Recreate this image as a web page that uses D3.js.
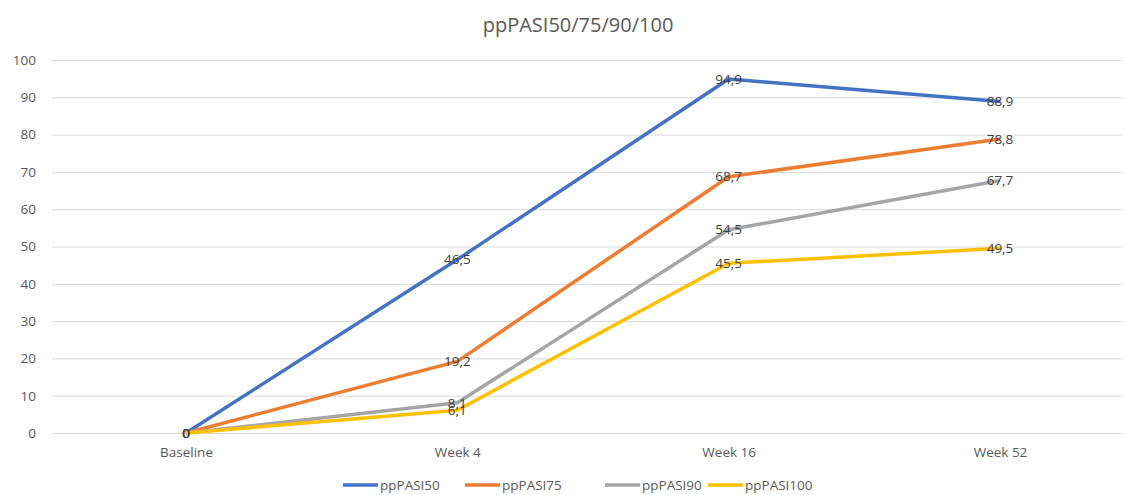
<!DOCTYPE html>
<html><head><meta charset="utf-8">
<script src="https://cdn.jsdelivr.net/npm/d3@7"></script>
<style>body{margin:0;background:#fff;}svg{display:block;font-family:"Open Sans",sans-serif;}</style>
</head><body>
<svg id="c" width="1125" height="495"></svg>
<script>
const categories = ["Baseline","Week 4","Week 16","Week 52"];
const seriesNames = ["ppPASI50","ppPASI75","ppPASI90","ppPASI100"];
const ppPASI50 = [0,46.5,94.9,88.9];
const ppPASI75 = [0,19.2,68.7,78.8];
const ppPASI90 = [0,8.1,54.5,67.7];
const ppPASI100 = [0,6.1,45.5,49.5];
const yTicks = [0,10,20,30,40,50,60,70,80,90,100];
const colors = ["#4472C4","#ED7D31","#A5A5A5","#FFC000"];
const series = [ppPASI50,ppPASI75,ppPASI90,ppPASI100];

const svg = d3.select("#c");
const x = d3.scalePoint().domain(categories).range([186,1000]);
const y = d3.scaleLinear().domain([0,100]).range([433,60]);
const gridX0 = 52, gridX1 = 1122;

svg.append("text").attr("x",578).attr("y",32).attr("text-anchor","middle")
  .attr("font-size",20).attr("fill","#595959").text("ppPASI50/75/90/100");

const yAxis = svg.append("g").attr("transform",`translate(${gridX0},0)`)
  .call(d3.axisLeft(y).tickValues(yTicks).tickSize(-(gridX1-gridX0)).tickPadding(16).tickFormat(d3.format("d")));
yAxis.select(".domain").remove();
yAxis.selectAll(".tick line").attr("stroke","#D9D9D9").attr("stroke-width",1);
yAxis.selectAll(".tick text").attr("fill","#595959").attr("font-size",13.5).attr("font-family","Open Sans, sans-serif");

const xAxis = svg.append("g").attr("transform","translate(0,433)")
  .call(d3.axisBottom(x).tickSize(0).tickPadding(14));
xAxis.select(".domain").remove();
xAxis.selectAll(".tick text").attr("fill","#595959").attr("font-size",13.5).attr("font-family","Open Sans, sans-serif");

const line = d3.line().x((d,i)=>x(categories[i])).y(d=>y(d));
series.forEach((s,k)=>{
  svg.append("path").datum(s).attr("d",line).attr("fill","none")
    .attr("stroke",colors[k]).attr("stroke-width",3.5).attr("stroke-linejoin","round");
});
const fmt = v => String(v).replace(".",",");
series.forEach((s,k)=>{
  svg.append("g").selectAll("text").data(s).join("text")
    .attr("x",(d,i)=>x(categories[i])).attr("y",d=>y(d)).attr("dy","0.35em")
    .attr("text-anchor","middle").attr("font-size",13.5).attr("fill","#404040")
    .text(d=>fmt(d));
});

const legX = [343,465,605,708];
const legY = 485;
const leg = svg.append("g");
seriesNames.forEach((n,k)=>{
  leg.append("line").attr("x1",legX[k]).attr("x2",legX[k]+35).attr("y1",legY).attr("y2",legY)
    .attr("stroke",colors[k]).attr("stroke-width",3.5);
  leg.append("text").attr("x",legX[k]+37).attr("y",legY).attr("dy","0.35em")
    .attr("font-size",13.5).attr("fill","#595959").text(n);
});
</script>
</body></html>
